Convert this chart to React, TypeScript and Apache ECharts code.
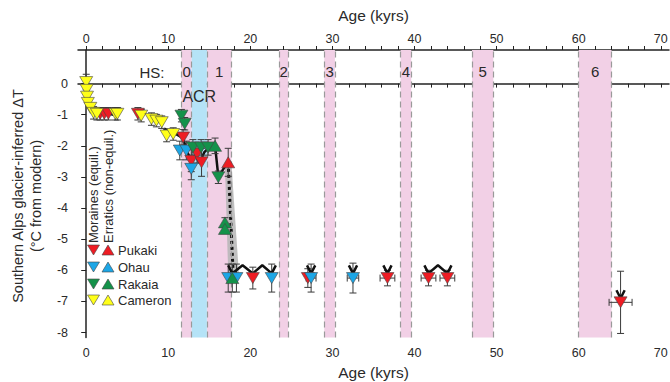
import React, { useEffect, useRef } from 'react';
import * as echarts from 'echarts';

// ---------- axis ticks ----------
const ageLabels = [0, 10, 20, 30, 40, 50, 60, 70];
const ageMinorTicks = [0, 2, 4, 6, 8, 10, 12, 14, 16, 18, 20, 22, 24, 26, 28, 30, 32, 34, 36, 38, 40, 42, 44, 46, 48, 50, 52, 54, 56, 58, 60, 62, 64, 66, 68, 70];
const dTLabels = [0, -1, -2, -3, -4, -5, -6, -7, -8];

// ---------- climate event bands (kyr) ----------
const hsNames = ['0', '1', '2', '3', '4', '5', '6'];
const hsStart = [11.6, 14.7, 23.5, 29.0, 38.3, 47.0, 60.0];
const hsEnd = [12.85, 17.7, 24.6, 30.3, 39.6, 49.6, 64.0];
const acrStart = 12.85;
const acrEnd = 14.7;

// ---------- data: [age kyr, dT, age err, dT err] ----------
const pukakiMoraines = [
  [1.7, -0.97, 0, 0.2], [2.2, -0.97, 0, 0.2], [2.7, -0.97, 0, 0.2],
  [6.3, -0.97, 0, 0.2], [11.8, -1.73, 0, 0.25], [12.8, -2.48, 0, 0.35],
  [13.5, -2.25, 0, 0.3], [14.05, -2.53, 0, 0.45],
  [20.3, -6.25, 0, 0.35], [27.0, -6.25, 0, 0.3], [36.7, -6.25, 0.9, 0.25],
  [41.7, -6.25, 0.9, 0.25], [44.0, -6.25, 0.9, 0.25], [65.1, -7.03, 1.4, 1.0],
];
const pukakiErratics = [[17.3, -2.53, 0, 0.45]];
const ohauMoraines = [
  [11.4, -2.15, 0, 0.3], [12.2, -2.15, 0, 0.3], [12.8, -2.74, 0, 0.35],
  [17.3, -6.25, 0, 0.45], [18.3, -6.25, 0, 0.45], [22.6, -6.25, 0, 0.45],
  [27.4, -6.25, 0.6, 0.45], [32.5, -6.25, 0.7, 0.48],
];
const ohauErratics: number[][] = [];
const rakaiaMoraines = [
  [11.6, -1.03, 0, 0.2], [12.0, -1.29, 0, 0.2], [13.0, -2.05, 0, 0.25],
  [14.0, -2.05, 0, 0.25], [14.85, -2.05, 0, 0.25], [16.1, -3.01, 0, 0.2],
];
const rakaiaErratics = [
  [15.7, -2.0, 0, 0.25], [16.9, -4.46, 0, 0.15], [16.9, -4.67, 0, 0.15], [17.8, -6.25, 0, 0.45],
];
const cameronMoraines = [
  [0.0, 0.05, 0, 0.25], [0.05, -0.2, 0, 0], [0.1, -0.42, 0, 0], [0.2, -0.62, 0, 0],
  [0.5, -0.78, 0, 0], [0.9, -0.94, 0, 0.2], [1.3, -0.97, 0, 0.2], [3.55, -0.97, 0, 0.2],
  [3.8, -0.97, 0, 0.2],
  [6.7, -1.03, 0, 0.2], [7.95, -1.14, 0, 0.2], [8.55, -1.19, 0, 0.2], [9.2, -1.24, 0, 0.2],
  [9.8, -1.67, 0, 0.2], [10.6, -1.62, 0, 0.2],
];
const cameronErratics: number[][] = [];

// mean glacier-inferred sequence (black line)
const sequenceLine = [
  [0.6, -0.9], [1.5, -1.0], [2.4, -0.93], [3.3, -1.0],
];
const sequenceLine2 = [
  [9.5, -1.45], [10.8, -1.6], [11.8, -1.75], [12.3, -2.2], [12.8, -2.45], [13.3, -2.3],
  [13.8, -2.55], [14.4, -2.2], [15.0, -2.05], [15.7, -2.0], [16.1, -3.0], [17.3, -2.5],
];
// uncertain transition (dotted) with its uncertainty envelope
const transitionLine = [[17.3, -2.55], [17.9, -6.1]];
const transitionEnvelope = [[16.9, -2.6], [17.7, -2.6], [18.6, -6.1], [17.3, -6.1]];
// lower-limit arrows (groups of adjacent ages), tip dT
const limitGroups = [[17.8, 20.3, 22.6], [27.4], [32.5], [36.7], [41.7, 44.0], [65.1]];
const limitTip = [-6.1, -6.1, -6.1, -6.1, -6.1, -6.9];

const COLORS = { red: '#ee1c24', blue: '#1ca6e6', green: '#14924a', yellow: '#ffff1a' };
const FONT = "'Liberation Sans', Arial, Helvetica, sans-serif";
const TXT = '#2a2a2a';

function buildArrows(): (number[] | string)[] {
  const out: (number[] | string)[] = [];
  limitGroups.forEach((g, gi) => {
    const tip = limitTip[gi];
    const top = tip + 0.26;
    out.push([g[0] - 0.5, top]);
    for (let i = 0; i < g.length; i++) {
      out.push([g[i], tip]);
      if (i < g.length - 1) out.push([(g[i] + g[i + 1]) / 2, top]);
    }
    out.push([g[g.length - 1] + 0.5, top]);
    out.push('-');
  });
  return out;
}

function errRender(params: any, api: any) {
  const x = api.value(0), y = api.value(1), ex = api.value(2), ey = api.value(3);
  const children: any[] = [];
  const st = { stroke: '#3a3a3a', lineWidth: 1 };
  if (ey > 0) {
    const p1 = api.coord([x, y + ey]);
    const p2 = api.coord([x, y - ey]);
    children.push({ type: 'line', shape: { x1: p1[0], y1: p1[1], x2: p2[0], y2: p2[1] }, style: st });
    children.push({ type: 'line', shape: { x1: p1[0] - 3.5, y1: p1[1], x2: p1[0] + 3.5, y2: p1[1] }, style: st });
    children.push({ type: 'line', shape: { x1: p2[0] - 3.5, y1: p2[1], x2: p2[0] + 3.5, y2: p2[1] }, style: st });
  }
  if (ex > 0) {
    const p1 = api.coord([x - ex, y]);
    const p2 = api.coord([x + ex, y]);
    children.push({ type: 'line', shape: { x1: p1[0], y1: p1[1], x2: p2[0], y2: p2[1] }, style: st });
    children.push({ type: 'line', shape: { x1: p1[0], y1: p1[1] - 3.5, x2: p1[0], y2: p1[1] + 3.5 }, style: st });
    children.push({ type: 'line', shape: { x1: p2[0], y1: p2[1] - 3.5, x2: p2[0], y2: p2[1] + 3.5 }, style: st });
  }
  return { type: 'group', children };
}

function envelopeRender(params: any, api: any) {
  if (params.dataIndex !== 0) return null;
  const pts = transitionEnvelope.map((p) => api.coord(p));
  return { type: 'polygon', shape: { points: pts }, style: { fill: '#b5b5b5', opacity: 0.85 } };
}

export default function App() {
  const ref = useRef<HTMLDivElement>(null);
  useEffect(() => {
    if (!ref.current) return;
    const chart = echarts.init(ref.current, null, { renderer: 'svg' });
    const all = [
      ...pukakiMoraines, ...pukakiErratics, ...ohauMoraines, ...ohauErratics,
      ...rakaiaMoraines, ...rakaiaErratics, ...cameronMoraines, ...cameronErratics,
    ];
    const markerSeries = (name: string, data: number[][], color: string, down: boolean) => ({
      name,
      type: 'scatter',
      data: data.map((d) => [d[0], d[1]]),
      symbol: 'triangle',
      symbolSize: [13, 11],
      symbolRotate: down ? 180 : 0,
      itemStyle: { color, borderColor: '#444', borderWidth: 0.6, opacity: 1 },
      z: 10,
      silent: true,
    });
    const axisCommon = {
      type: 'value',
      min: -1,
      max: 71,
      axisLine: { show: true, lineStyle: { color: '#222', width: 1.5 } },
      axisTick: { show: true, customValues: ageMinorTicks, length: 4, inside: false, lineStyle: { color: '#222' } },
      axisLabel: { show: true, customValues: ageLabels, fontSize: 12.5, color: TXT, fontFamily: FONT },
      splitLine: { show: false },
      nameLocation: 'middle',
      name: 'Age (kyrs)',
      nameTextStyle: { fontSize: 15.5, color: TXT, fontFamily: FONT, fontWeight: 'normal' },
    };
    const bandData: any[] = hsNames.map((n, i) => [
      { xAxis: hsStart[i], name: n, itemStyle: { color: '#f2d0e6' }, label: { distance: 14, fontSize: 15 } },
      { xAxis: hsEnd[i] },
    ]);
    bandData.push([
      { xAxis: acrStart, name: 'ACR', itemStyle: { color: '#b5e3f7' }, label: { distance: 38, fontSize: 16 } },
      { xAxis: acrEnd },
    ]);
    const edges = Array.from(new Set([...hsStart, ...hsEnd, acrStart, acrEnd]));
    chart.setOption({
      animation: false,
      backgroundColor: '#ffffff',
      grid: { left: 78, right: 1, top: 50, bottom: 44.5, containLabel: false, outerBoundsMode: 'none' },
      xAxis: [
        { ...axisCommon, position: 'bottom', nameGap: 27, axisLabel: { ...axisCommon.axisLabel, margin: 9 } },
        { ...axisCommon, position: 'top', nameGap: 27, axisLabel: { ...axisCommon.axisLabel, margin: 5 } },
      ],
      yAxis: {
        type: 'value',
        min: -8.16,
        max: 1.08,
        axisLine: { show: true, lineStyle: { color: '#222', width: 1.5 } },
        axisTick: { show: true, customValues: dTLabels, length: 5, lineStyle: { color: '#222' } },
        axisLabel: { show: true, customValues: dTLabels, fontSize: 12.5, color: TXT, fontFamily: FONT, margin: 10 },
        splitLine: { show: false },
      },
      series: [
        {
          name: 'bands',
          type: 'line',
          data: [],
          silent: true,
          markArea: {
            silent: true,
            label: { show: true, position: 'insideTop', color: TXT, fontFamily: FONT },
            data: bandData,
          },
          markLine: {
            silent: true,
            symbol: 'none',
            label: { show: false },
            lineStyle: { color: '#9a9a9a', type: [6, 4], width: 1.2 },
            data: edges.map((v) => ({ xAxis: v })),
          },
          z: 1,
        },
        {
          name: 'transition envelope',
          type: 'custom',
          renderItem: envelopeRender,
          data: transitionEnvelope,
          encode: { x: 0, y: 1 },
          z: 3,
          silent: true,
        },
        {
          name: 'transition',
          type: 'line',
          data: transitionLine,
          symbol: 'none',
          lineStyle: { color: '#111', width: 3, type: [3, 3] },
          z: 4,
          silent: true,
        },
        {
          name: 'sequence',
          type: 'line',
          data: sequenceLine,
          symbol: 'none',
          lineStyle: { color: '#111', width: 2.5 },
          z: 4,
          silent: true,
        },
        {
          name: 'sequence2',
          type: 'line',
          data: sequenceLine2,
          symbol: 'none',
          lineStyle: { color: '#111', width: 2.5 },
          z: 4,
          silent: true,
        },
        {
          name: 'errors',
          type: 'custom',
          renderItem: errRender,
          data: all,
          encode: { x: 0, y: 1 },
          z: 5,
          silent: true,
        },
        {
          name: 'limits',
          type: 'line',
          data: buildArrows(),
          connectNulls: false,
          symbol: 'none',
          lineStyle: { color: '#111', width: 2.5 },
          z: 6,
          silent: true,
        },
        markerSeries('Pukaki moraines', pukakiMoraines, COLORS.red, true),
        markerSeries('Pukaki erratics', pukakiErratics, COLORS.red, false),
        markerSeries('Ohau moraines', ohauMoraines, COLORS.blue, true),
        markerSeries('Ohau erratics', ohauErratics, COLORS.blue, false),
        markerSeries('Rakaia moraines', rakaiaMoraines, COLORS.green, true),
        markerSeries('Rakaia erratics', rakaiaErratics, COLORS.green, false),
        markerSeries('Cameron moraines', cameronMoraines, COLORS.yellow, true),
        markerSeries('Cameron erratics', cameronErratics, COLORS.yellow, false),
      ],
      graphic: [
        { type: 'text', x: 152, y: 72, style: { text: 'HS:', fontSize: 15, fill: TXT, fontFamily: FONT, textAlign: 'center', textVerticalAlign: 'middle' }, z: 20 },
        { type: 'text', x: 18, y: 196, rotation: Math.PI / 2, style: { text: 'Southern Alps glacier-inferred ΔT', fontSize: 14.5, fill: TXT, fontFamily: FONT, textAlign: 'center', textVerticalAlign: 'middle' } },
        { type: 'text', x: 36, y: 196, rotation: Math.PI / 2, style: { text: '(°C from modern)', fontSize: 14.5, fill: TXT, fontFamily: FONT, textAlign: 'center', textVerticalAlign: 'middle' } },
        { type: 'text', x: 93, y: 243, rotation: Math.PI / 2, style: { text: 'Moraines (equil.)', fontSize: 13, fill: TXT, fontFamily: FONT, textAlign: 'left', textVerticalAlign: 'middle' }, z: 20 },
        { type: 'text', x: 108, y: 243, rotation: Math.PI / 2, style: { text: 'Erratics (non-equil.)', fontSize: 13, fill: TXT, fontFamily: FONT, textAlign: 'left', textVerticalAlign: 'middle' }, z: 20 },
        ...[['Pukaki', COLORS.red, 250], ['Ohau', COLORS.blue, 267], ['Rakaia', COLORS.green, 284], ['Cameron', COLORS.yellow, 300]].flatMap(([label, color, y]: any) => [
          { type: 'polygon', shape: { points: [[87.5, y - 5], [99.5, y - 5], [93.5, y + 5]] }, style: { fill: color, stroke: '#444', lineWidth: 0.6 }, z: 20 },
          { type: 'polygon', shape: { points: [[102, y + 5], [114, y + 5], [108, y - 5]] }, style: { fill: color, stroke: '#444', lineWidth: 0.6 }, z: 20 },
          { type: 'text', x: 118, y, style: { text: label, fontSize: 13, fill: TXT, fontFamily: FONT, textAlign: 'left', textVerticalAlign: 'middle' }, z: 20 },
        ]),
      ],
    });
    return () => chart.dispose();
  }, []);
  return <div ref={ref} style={{ width: 670, height: 382, position: 'absolute', left: 0, top: 0 }} />;
}
